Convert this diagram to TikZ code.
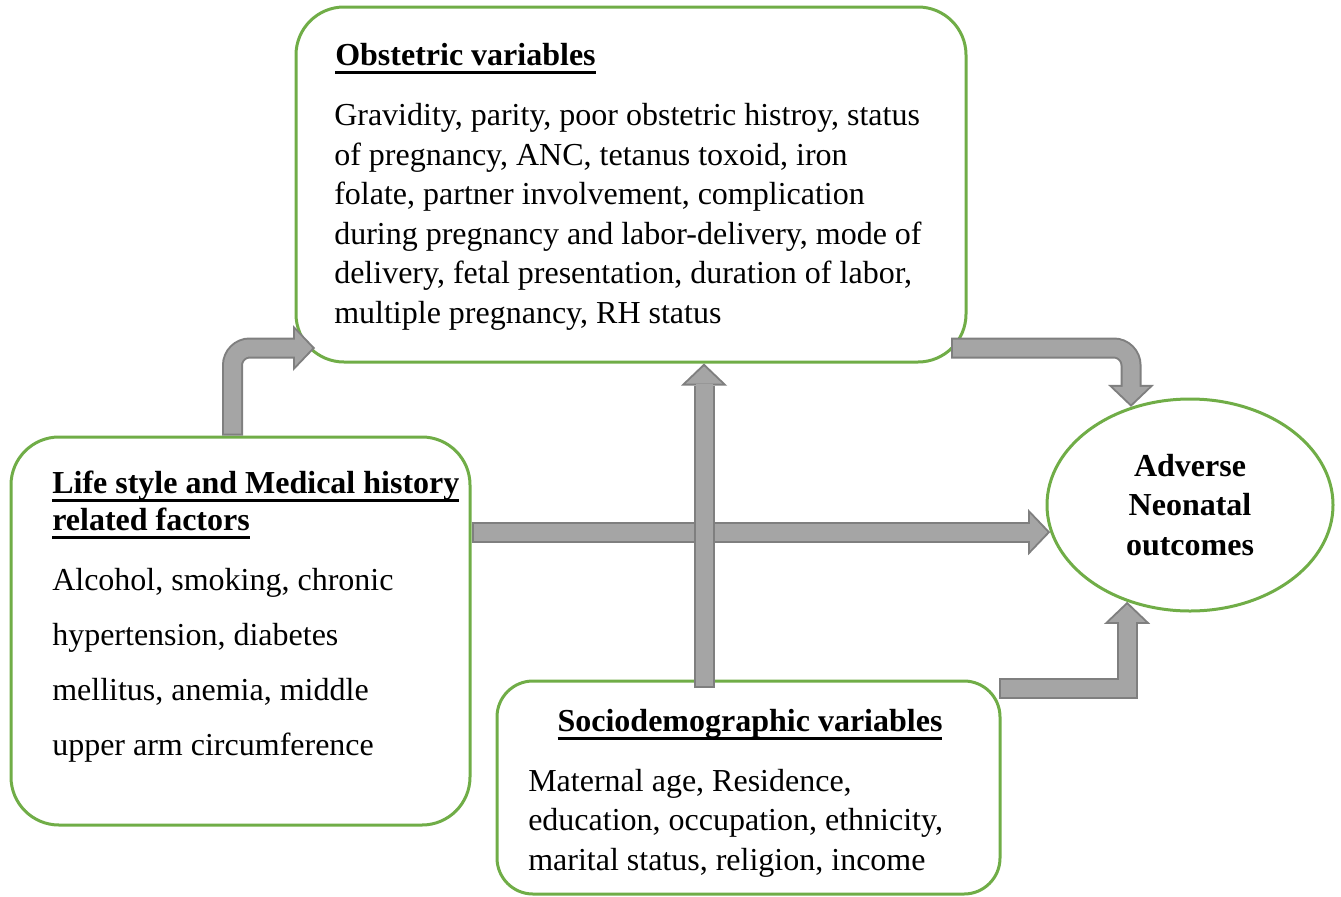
\documentclass[tikz,border=0pt]{standalone}
\usepackage{fontspec}
\setmainfont{Liberation Serif}
\usetikzlibrary{arrows.meta, shapes.geometric}
\definecolor{boxgreen}{HTML}{70AD47}
\definecolor{arrowfill}{HTML}{A5A5A5}
\definecolor{arrowedge}{HTML}{7F7F7F}
% thick underline of the headings
\newcommand{\headline}[1]{\setbox0=\hbox{#1}\rlap{\vrule height -4.4pt depth 6.6pt width \wd0}\box0}

\begin{document}
\begin{tikzpicture}[x=0.75pt, y=-0.75pt,
    varbox/.style={draw=boxgreen, line width=2.25pt, fill=white, rounded corners=36pt},
    headtext/.style={font=\fontsize{24}{27.75}\selectfont\bfseries, inner sep=0pt, align=left},
    bodytext/.style={font=\fontsize{24}{29.6}\selectfont, inner sep=0pt, align=left},
    blockarrow/.style={
        preaction={draw=arrowedge, line width=15.75pt, shorten >=0pt, shorten <=0pt,
            -{Triangle[length=16.5pt, width=34.5pt, line width=0pt]}},
        draw=arrowfill, line width=12.75pt, shorten >=2.1pt, shorten <=1.5pt,
        -{Triangle[length=12.9pt, width=27.2pt, line width=0pt]}}
]
    \useasboundingbox (0,0) rectangle (1341,896);

    % The four groups of variables and the outcome
    \node[varbox, minimum width=502.5pt, minimum height=266.25pt] (obst) at (631,184.5) {};
    \node[varbox, minimum width=344.25pt, minimum height=291pt] (life) at (240.5,631) {};
    \node[varbox, rounded corners=27pt, minimum width=377.25pt, minimum height=159.75pt] (socio) at (748.5,787.5) {};
    \node[ellipse, draw=boxgreen, line width=2.25pt, minimum width=214.5pt, minimum height=159pt,
          inner sep=0pt, align=center, font=\fontsize{24}{29.6}\selectfont\bfseries]
          (outcome) at (1190,505) {Adverse\\Neonatal\\outcomes};

    % Texts of the boxes (multi-line nodes sit on their last line)
    \node[headtext, anchor=base west] (obstTitle) at (335,65) {\headline{Obstetric variables}};
    \node[bodytext, anchor=base west] (obstBody) at (334,323)
        {Gravidity, parity, poor obstetric histroy, status\\of pregnancy, ANC, tetanus toxoid, iron\\folate, partner involvement, complication\\during pregnancy and labor-delivery, mode of\\delivery, fetal presentation, duration of labor,\\multiple pregnancy, RH status};

    \node[headtext, anchor=base west] (lifeTitle) at (52,530)
        {\headline{Life style and Medical history}\\\headline{related factors}};
    \node[bodytext, font=\fontsize{24}{41.25}\selectfont, anchor=base west] (lifeBody) at (52,755)
        {Alcohol, smoking, chronic\\hypertension, diabetes\\mellitus, anemia, middle\\upper arm circumference};

    \node[headtext, anchor=base] (socioTitle) at (750,731) {\headline{Sociodemographic variables}};
    \node[bodytext, anchor=base west] (socioBody) at (528,870)
        {Maternal age, Residence,\\education, occupation, ethnicity,\\marital status, religion, income};

    % Ends of the block arrows
    \coordinate (lifeOut) at ([xshift=-6pt]life.north);
    \coordinate (obstIn) at (315,348);
    \coordinate (obstOut) at (951,348);
    \coordinate (socioOut) at (999,688);
    \coordinate (socioUp) at (704,688);

    % Block arrows
    \draw[blockarrow, rounded corners=13pt] (lifeOut) |- (obstIn);
    \draw[blockarrow, rounded corners=13pt] (obstOut) -| (outcome.121);
    \draw[blockarrow] (socioOut) -| (outcome.237);
    \draw[blockarrow] (life.east |- outcome.191) -- (outcome.191);
    \draw[blockarrow] (socioUp) -- (socioUp |- obst.south);

\end{tikzpicture}
\end{document}
